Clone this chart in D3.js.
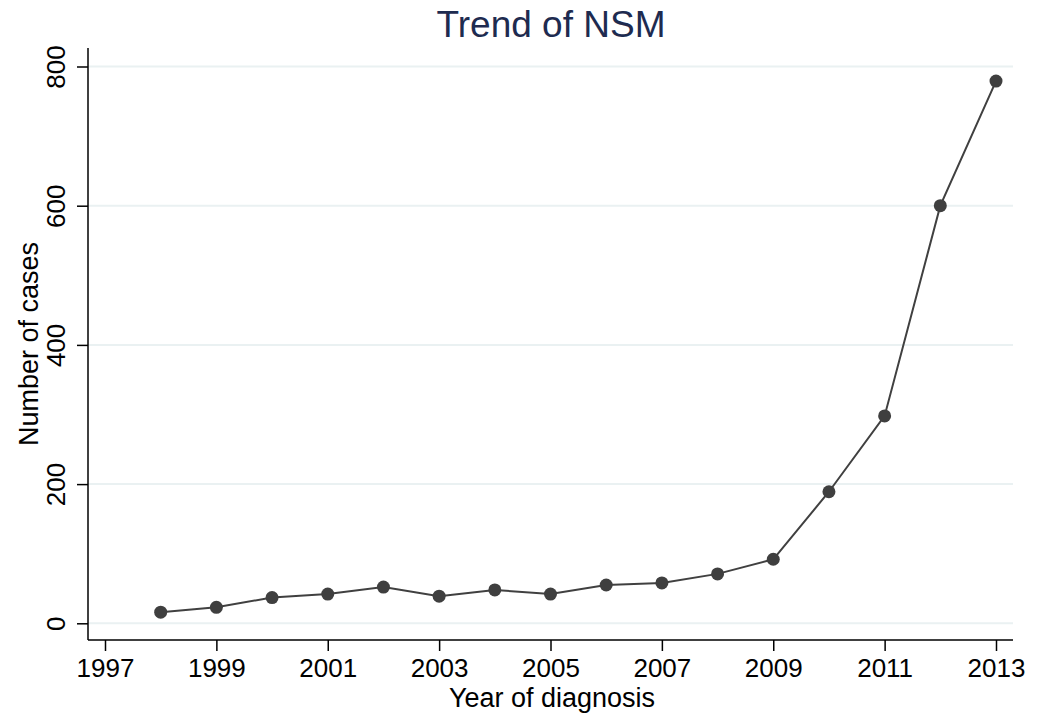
<!DOCTYPE html>
<html>
<head>
<meta charset="utf-8">
<script src="https://cdn.jsdelivr.net/npm/d3@7"></script>
<style>
  html, body { margin: 0; padding: 0; background: #fff; }
  svg { display: block; font-family: "Liberation Sans", Arial, Helvetica, sans-serif; }
</style>
</head>
<body>
<svg id="chart" width="1042" height="713"></svg>
<script>
const years = [1998, 1999, 2000, 2001, 2002, 2003, 2004, 2005, 2006, 2007, 2008, 2009, 2010, 2011, 2012, 2013];
const cases = [16, 23, 37, 42, 52, 39, 48, 42, 55, 58, 71, 92, 189, 298, 600, 779];
const xTicks = [1997, 1999, 2001, 2003, 2005, 2007, 2009, 2011, 2013];
const yTicks = [0, 200, 400, 600, 800];
const titleText = "Trend of NSM";
const xTitle = "Year of diagnosis";
const yTitle = "Number of cases";

const svg = d3.select("#chart");
const plot = { left: 88, right: 1013, top: 48, bottom: 640 };

const x = d3.scaleLinear().domain([1997, 2013]).range([105, 996]);
const y = d3.scaleLinear().domain([0, 800]).range([623.3, 66.5]);

// gridlines
svg.append("g").selectAll("line").data(yTicks).join("line")
  .attr("x1", plot.left).attr("x2", plot.right)
  .attr("y1", d => y(d)).attr("y2", d => y(d))
  .attr("stroke", "#eaf1f2").attr("stroke-width", 2);

// y axis
const yAxis = svg.append("g").attr("transform", `translate(${plot.left},0)`)
  .call(d3.axisLeft(y).tickValues(yTicks).tickSize(11).tickPadding(0).tickFormat(d3.format("d")));
yAxis.select(".domain").attr("d", `M0,${plot.top}V${plot.bottom}`).attr("stroke", "#000").attr("stroke-width", 1.5);
yAxis.selectAll(".tick line").attr("stroke", "#000").attr("stroke-width", 1.5);
yAxis.selectAll(".tick text")
  .attr("font-size", 26).attr("fill", "#000")
  .attr("text-anchor", "middle")
  .attr("x", null).attr("dy", null)
  .attr("transform", "translate(-23,0) rotate(-90)")
  .attr("y", 0);

// x axis
const xAxis = svg.append("g").attr("transform", `translate(0,${plot.bottom})`)
  .call(d3.axisBottom(x).tickValues(xTicks).tickSize(11).tickPadding(0).tickFormat(d3.format("d")));
xAxis.select(".domain").attr("d", `M${plot.left},0H${plot.right}`).attr("stroke", "#000").attr("stroke-width", 1.5);
xAxis.selectAll(".tick line").attr("stroke", "#000").attr("stroke-width", 1.5);
xAxis.selectAll(".tick text").attr("font-size", 26).attr("fill", "#000")
  .attr("dy", null).attr("y", 37);

// line
const line = d3.line().x((d, i) => x(years[i])).y(d => y(d));
svg.append("path").datum(cases)
  .attr("d", line).attr("fill", "none")
  .attr("stroke", "#404040").attr("stroke-width", 2);

// points
svg.append("g").selectAll("circle").data(cases).join("circle")
  .attr("cx", (d, i) => x(years[i])).attr("cy", d => y(d))
  .attr("r", 6.5).attr("fill", "#3f3f3f");

// titles
svg.append("text").attr("x", 551).attr("y", 37)
  .attr("text-anchor", "middle").attr("font-size", 37).attr("fill", "#1e2b50")
  .text(titleText);

svg.append("text").attr("x", 552).attr("y", 707)
  .attr("text-anchor", "middle").attr("font-size", 27).attr("fill", "#000")
  .text(xTitle);

svg.append("text")
  .attr("transform", `translate(37.5,344) rotate(-90)`)
  .attr("text-anchor", "middle").attr("font-size", 27).attr("fill", "#000")
  .text(yTitle);
</script>
</body>
</html>
